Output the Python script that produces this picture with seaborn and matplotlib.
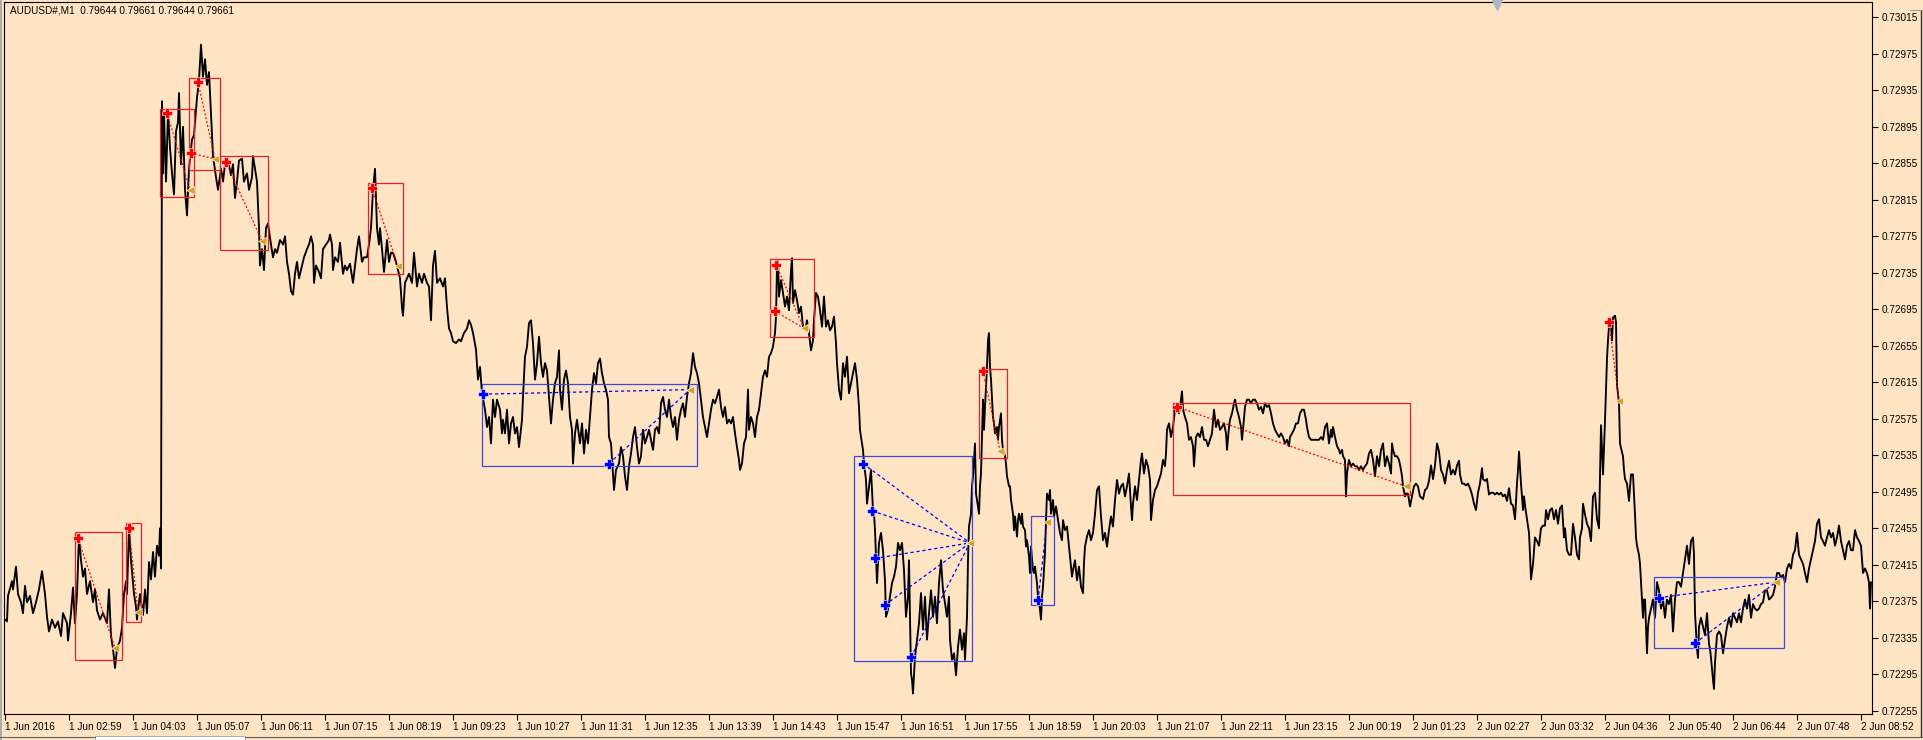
import matplotlib
matplotlib.use("Agg")
import matplotlib.pyplot as plt
import matplotlib.transforms as mtransforms
from matplotlib.patches import Rectangle
from matplotlib.lines import Line2D
import seaborn as sns
import pandas as pd

sns.set_theme(style="white")
plt.rcParams['font.family'] = ['Liberation Sans', 'DejaVu Sans']

BG = '#FFE4C4'

# ---------------- price series (bar index, close) ----------------
bars_a = [5,7,8,12,13,16,18,21,23,25,27,30,33,36,39,42,45,47,49,52,55,58,61,63,67,68,71,73,75,77,
          79,81,83,85,87,90,93,95,97,100,103,107,109,111,113,115,117,120,122,124,126,127,129,131,134,136,137,140,143,145,
          147,149,151,153,155,157,159,160,161,162]
close_a = [0.72355,0.72353,0.72381,0.72397,0.72388,0.72413,0.72383,0.72374,0.72362,0.72392,0.72374,0.72381,0.72362,0.72374,0.72388,
           0.72408,0.72383,0.72358,0.72342,0.72355,0.72346,0.72353,0.72337,0.72362,0.72351,0.72332,0.72362,0.72390,0.72351,0.72383,
           0.72446,0.72420,0.72402,0.72411,0.72383,0.72397,0.72374,0.72388,0.72365,0.72355,0.72362,0.72351,0.72388,0.72337,0.72323,
           0.72302,0.72323,0.72332,0.72346,0.72383,0.72397,0.72383,0.72455,0.72420,0.72383,0.72369,0.72355,0.72383,0.72360,0.72388,
           0.72362,0.72418,0.72399,0.72429,0.72402,0.72436,0.72425,0.72455,0.72411,0.72923]

bars_b = [163,164,166,168,170,172,174,176,178,179,181,183,185,187,189,192,194,197,199,201,
          203,205,207,209,211,213,216,218,221,223,225,228,231,233,235,237,239,242,244,247,
          249,252,253,255,257,259,260,262,264,266,268,271,273,275,277,280,283,285,287,289,
          291,293,295,297,299,302,304,307,309,311,313,314,316,319,321,323,326,329,330,332,
          333,335,338,340,343,345,347,350,353,355,357,359,362,364,367,369,371,373,375,376,
          377,379,380,382,384,387,389,391,393,396,398,400,402,403,405,407,409,412,414,417,
          419,422,424,427,429,431,433,435,437,440,443,445,447,449,451,453,456,459,461,464,
          467,469,471,473,476,478,480]
close_b = [0.72844,0.72909,0.72835,0.72911,0.72872,0.72844,0.72821,0.72890,0.72900,0.72932,
           0.72854,0.72895,0.72826,0.72798,0.72849,0.72881,0.72886,0.72927,0.72946,0.72985,
           0.72950,0.72969,0.72941,0.72955,0.72909,0.72863,0.72840,0.72826,0.72849,0.72835,
           0.72854,0.72858,0.72842,0.72854,0.72817,0.72835,0.72858,0.72860,0.72835,0.72844,
           0.72826,0.72840,0.72863,0.72849,0.72835,0.72784,0.72743,0.72761,0.72738,0.72784,
           0.72789,0.72766,0.72752,0.72761,0.72757,0.72771,0.72766,0.72775,0.72747,0.72734,
           0.72715,0.72711,0.72734,0.72747,0.72729,0.72743,0.72752,0.72761,0.72766,0.72775,
           0.72766,0.72724,0.72743,0.72736,0.72729,0.72761,0.72766,0.72771,0.72777,0.72766,
           0.72738,0.72752,0.72747,0.72768,0.72734,0.72743,0.72738,0.72745,0.72724,0.72743,
           0.72761,0.72775,0.72747,0.72752,0.72752,0.72766,0.72784,0.72826,0.72849,0.72817,
           0.72784,0.72766,0.72784,0.72761,0.72736,0.72771,0.72747,0.72757,0.72757,0.72747,
           0.72738,0.72729,0.72697,0.72688,0.72724,0.72729,0.72734,0.72724,0.72757,0.72720,
           0.72734,0.72724,0.72734,0.72724,0.72720,0.72683,0.72743,0.72759,0.72724,0.72729,
           0.72720,0.72729,0.72697,0.72674,0.72669,0.72660,0.72658,0.72662,0.72660,0.72669,
           0.72674,0.72683,0.72678,0.72669,0.72651,0.72618,0.72632]

bars_c = [482,485,487,489,491,493,495,497,500,502,503,505,507,509,511,513,515,517,519,522,
          523,525,527,529,531,533,535,537,539,541,543,545,547,549,551,553,555,557,559,560,
          562,564,566,568,570,572,573,575,577,580,582,584,586,588,590,592,594,596,598,600,
          602,604,606,608,609,611,613,614,616,619,621,623,625,627,629,631,633,635,637,639,
          641,643,645,647,649,651,653,655,657,659,661,663,665,667,669,671,673,675,677,679,
          681,683,685,687,689,691,693,695,697,699,701,703,705,707,709,711,713,715,717,719,
          721,723,725,727,729,731,733,735,737,739,740,742,744,746,748,749,751,753,755,757,
          759,761,763,765,767,769,771,773,775,776,777,778,779,781,783,785,787,789,791,792,
          793,795,797,799,801,803,805,807,809,811,813,814,816,818,820,822,824,826,828,830,
          832,834,836,837,839,841,843,845,847,849,851,853,855,857,859,860,861,863,864,866,
          867,869,871,873,874,875,877,879,881,883,885,886,888,890,892,894,896,898,900,902,
          904,906,908,909,911,912,913,915,917,919,921,923,925,927,929,931,933,935,937,939,
          941,943,945,947,949,950]
close_c = [0.72603,0.72585,0.72566,0.72577,0.72548,0.72596,0.72577,0.72596,0.72585,0.72559,
           0.72574,0.72559,0.72585,0.72548,0.72570,0.72577,0.72559,0.72566,0.72544,0.72574,
           0.72599,0.72643,0.72654,0.72680,0.72683,0.72658,0.72618,0.72636,0.72665,0.72636,
           0.72621,0.72636,0.72628,0.72599,0.72570,0.72596,0.72614,0.72621,0.72650,0.72607,
           0.72585,0.72618,0.72628,0.72614,0.72577,0.72563,0.72526,0.72559,0.72574,0.72548,
           0.72570,0.72537,0.72563,0.72548,0.72577,0.72607,0.72625,0.72614,0.72636,0.72641,
           0.72625,0.72614,0.72607,0.72596,0.72555,0.72548,0.72515,0.72497,0.72519,0.72526,
           0.72544,0.72534,0.72512,0.72497,0.72523,0.72537,0.72555,0.72566,0.72544,0.72526,
           0.72534,0.72563,0.72548,0.72555,0.72563,0.72552,0.72541,0.72563,0.72566,0.72559,
           0.72592,0.72599,0.72585,0.72577,0.72596,0.72577,0.72566,0.72577,0.72552,0.72574,
           0.72585,0.72592,0.72577,0.72599,0.72614,0.72625,0.72647,0.72632,0.72625,0.72614,
           0.72596,0.72577,0.72566,0.72555,0.72570,0.72585,0.72596,0.72592,0.72599,0.72607,
           0.72588,0.72577,0.72588,0.72570,0.72574,0.72570,0.72577,0.72559,0.72544,0.72530,
           0.72519,0.72526,0.72548,0.72555,0.72607,0.72563,0.72577,0.72570,0.72555,0.72577,
           0.72585,0.72603,0.72621,0.72628,0.72621,0.72643,0.72647,0.72654,0.72669,0.72687,
           0.72742,0.72749,0.72709,0.72727,0.72713,0.72698,0.72709,0.72694,0.72738,0.72751,
           0.72702,0.72716,0.72705,0.72691,0.72698,0.72676,0.72672,0.72683,0.72669,0.72650,
           0.72661,0.72683,0.72713,0.72709,0.72694,0.72676,0.72709,0.72676,0.72683,0.72672,
           0.72676,0.72687,0.72658,0.72636,0.72607,0.72596,0.72636,0.72621,0.72643,0.72603,
           0.72614,0.72625,0.72636,0.72618,0.72588,0.72563,0.72555,0.72541,0.72526,0.72508,
           0.72482,0.72501,0.72519,0.72475,0.72471,0.72453,0.72395,0.72439,0.72450,0.72431,
           0.72398,0.72358,0.72366,0.72380,0.72395,0.72402,0.72413,0.72439,0.72431,0.72439,
           0.72409,0.72358,0.72380,0.72420,0.72296,0.72289,0.72274,0.72314,0.72333,0.72351,
           0.72384,0.72344,0.72380,0.72333,0.72362,0.72387,0.72358,0.72380,0.72351,0.72395,
           0.72420,0.72387,0.72373,0.72358,0.72380,0.72333]

bars_d = [952,954,956,958,960,962,964,965,967,968,969,971,972,973,975,976,977,979,980,981,
          983,984,985,987,988,989,990,991,993,994,995,997,998,999,1001,1002,1003,1005,1006,1007,
          1009,1010,1011,1013,1014,1015,1017,1018,1019,1021,1022,1023,1025,1026,1027,1029,1030,1031,1033,1034,
          1035,1037,1038,1039,1041,1042,1043,1045,1046,1047,1049,1050,1051,1053,1054,1056,1058,1060,1062,1063,
          1065,1067,1069,1071,1072,1073,1075,1077,1079,1081,1083,1084,1085,1087,1089,1091,1093,1095,1097,1099,
          1101,1103,1105,1107,1109,1111,1113,1115,1117,1119,1121,1123,1125,1127,1129,1131,1132,1133,1135,1137,
          1139,1141,1142,1144,1146,1148,1150,1151,1153,1155,1157,1159,1161,1163,1165,1166,1167,1169,1171,1173,
          1175,1177,1179,1181,1182,1183,1185,1187,1189,1191,1193,1194,1196,1198,1200,1202,1204,1206,1208,1210,
          1212,1214,1216,1218,1220,1222,1224,1226,1227,1229,1230,1232,1234,1235,1237,1239,1241,1242,1243,1245,
          1247,1249,1251,1253,1255,1257,1259,1261,1263,1265,1267,1269,1271,1273,1275,1277,1279,1281,1283,1285,
          1287,1289,1290,1292,1294,1296,1298,1300,1302,1304,1306,1307,1309,1311,1313,1315,1317,1319,1321,1323,
          1325,1327,1328,1329,1331,1332,1333,1335,1337,1339,1340,1342,1343,1345,1346,1347,1348,1349,1351,1353,
          1355,1357,1359,1361,1363,1365,1367,1369,1371,1373,1375,1377,1379,1381,1383,1385,1387,1389,1391,1392,
          1393,1395,1397,1399,1401,1402,1403,1405,1406,1408,1410,1412,1414,1416,1418]
close_d = [0.72311,0.72318,0.72294,0.72325,0.72344,0.72322,0.72340,0.72311,0.72358,0.72420,
           0.72457,0.72471,0.72501,0.72512,0.72548,0.72493,0.72486,0.72471,0.72501,0.72515,
           0.72596,0.72563,0.72588,0.72632,0.72661,0.72669,0.72632,0.72618,0.72577,0.72570,
           0.72559,0.72566,0.72552,0.72566,0.72581,0.72552,0.72541,0.72534,0.72526,0.72512,
           0.72501,0.72501,0.72486,0.72471,0.72453,0.72468,0.72446,0.72464,0.72471,0.72460,
           0.72471,0.72457,0.72453,0.72435,0.72442,0.72424,0.72406,0.72435,0.72409,0.72406,
           0.72413,0.72395,0.72380,0.72376,0.72355,0.72380,0.72391,0.72428,0.72464,0.72493,
           0.72486,0.72497,0.72471,0.72486,0.72468,0.72479,0.72464,0.72450,0.72442,0.72464,
           0.72453,0.72457,0.72435,0.72413,0.72402,0.72409,0.72420,0.72398,0.72413,0.72391,
           0.72384,0.72417,0.72435,0.72446,0.72453,0.72442,0.72450,0.72471,0.72497,0.72501,
           0.72468,0.72442,0.72450,0.72435,0.72453,0.72468,0.72457,0.72486,0.72508,0.72493,
           0.72501,0.72504,0.72490,0.72501,0.72515,0.72479,0.72464,0.72482,0.72501,0.72486,
           0.72508,0.72530,0.72537,0.72515,0.72530,0.72523,0.72508,0.72464,0.72486,0.72497,
           0.72501,0.72508,0.72515,0.72530,0.72523,0.72537,0.72563,0.72570,0.72555,0.72566,
           0.72585,0.72588,0.72581,0.72596,0.72605,0.72585,0.72577,0.72570,0.72552,0.72555,
           0.72545,0.72523,0.72555,0.72559,0.72555,0.72566,0.72552,0.72552,0.72545,0.72552,
           0.72559,0.72585,0.72566,0.72574,0.72563,0.72566,0.72570,0.72559,0.72541,0.72566,
           0.72574,0.72581,0.72592,0.72596,0.72585,0.72577,0.72566,0.72552,0.72563,0.72588,
           0.72596,0.72596,0.72592,0.72596,0.72596,0.72592,0.72585,0.72588,0.72581,0.72592,
           0.72588,0.72590,0.72581,0.72570,0.72563,0.72559,0.72555,0.72559,0.72555,0.72548,
           0.72552,0.72545,0.72555,0.72559,0.72563,0.72570,0.72570,0.72581,0.72585,0.72585,
           0.72574,0.72566,0.72555,0.72552,0.72552,0.72552,0.72552,0.72552,0.72555,0.72552,
           0.72566,0.72570,0.72559,0.72548,0.72563,0.72555,0.72566,0.72555,0.72545,0.72541,
           0.72537,0.72541,0.72534,0.72530,0.72490,0.72515,0.72523,0.72530,0.72523,0.72526,
           0.72523,0.72523,0.72519,0.72523,0.72519,0.72523,0.72526,0.72537,0.72541,0.72530,
           0.72512,0.72534,0.72523,0.72541,0.72548,0.72523,0.72534,0.72526,0.72515,0.72548,
           0.72541,0.72534,0.72534,0.72530,0.72519,0.72512,0.72501,0.72490,0.72493,0.72493,
           0.72479,0.72490,0.72501,0.72504,0.72501]

bars_e = [1420,1423,1425,1427,1429,1431,1433,1435,1437,1439,1441,1443,1445,1447,1449,1451,1453,1455,1457,1459,
          1460,1462,1464,1466,1468,1470,1472,1474,1476,1478,1480,1482,1483,1485,1487,1489,1491,1493,1495,1497,
          1499,1501,1503,1505,1507,1509,1511,1513,1515,1517,1518,1519,1521,1523,1524,1525,1527,1529,1530,1531,
          1533,1535,1537,1539,1541,1543,1545,1546,1548,1550,1552,1554,1556,1558,1560,1562,1564,1565,1567,1569,
          1571,1573,1575,1577,1579,1580,1582,1583,1585,1587,1589,1591,1593,1595,1597,1599,1600,1601,1603,1604,
          1605,1607,1608,1609,1611,1612,1613,1615,1616,1617,1619,1620,1621,1623,1624,1625,1627,1629,1631,1633,
          1635,1636,1637,1639,1640,1641,1643,1644,1645,1647,1648,1649,1651,1653,1655,1657,1659,1661,1663,1665,
          1667,1669,1671,1673,1675,1677,1679,1681,1683,1685,1687,1689,1691,1693,1694,1695,1697,1698,1699,1701,
          1703,1705,1707,1709,1710,1711,1713,1714,1715,1717,1719,1721,1723,1725,1727,1729,1731,1733,1735,1737,
          1739,1741,1743,1745,1747,1749,1751,1753,1755,1757,1759,1761,1763,1765,1767,1769,1771,1773,1775,1777,
          1779,1781,1783,1785,1787,1789,1791,1793,1795,1797,1799,1801,1803,1805,1807,1809,1811,1813,1815,1817,
          1819,1821,1823,1825,1827,1829,1831,1833,1835,1837,1839,1841,1843,1845,1847,1849,1851,1853,1855,1857,
          1859,1861,1862,1863,1865,1867,1869,1870,1871]
close_e = [0.72490,0.72487,0.72497,0.72499,0.72507,0.72524,0.72509,0.72524,0.72548,0.72539,
           0.72519,0.72514,0.72504,0.72519,0.72529,0.72514,0.72519,0.72514,0.72524,0.72529,
           0.72514,0.72504,0.72504,0.72502,0.72504,0.72499,0.72492,0.72482,0.72475,0.72494,
           0.72504,0.72521,0.72509,0.72507,0.72509,0.72492,0.72494,0.72494,0.72492,0.72494,
           0.72492,0.72494,0.72490,0.72492,0.72485,0.72499,0.72482,0.72480,0.72465,0.72504,
           0.72519,0.72539,0.72504,0.72475,0.72490,0.72480,0.72465,0.72450,0.72426,0.72399,
           0.72416,0.72445,0.72441,0.72436,0.72455,0.72458,0.72458,0.72475,0.72465,0.72475,
           0.72477,0.72465,0.72475,0.72460,0.72477,0.72480,0.72445,0.72455,0.72431,0.72426,
           0.72426,0.72460,0.72445,0.72426,0.72421,0.72445,0.72455,0.72482,0.72470,0.72460,
           0.72455,0.72441,0.72490,0.72494,0.72465,0.72455,0.72509,0.72568,0.72514,0.72543,
           0.72573,0.72641,0.72661,0.72676,0.72681,0.72661,0.72686,0.72688,0.72681,0.72612,
           0.72592,0.72548,0.72543,0.72534,0.72519,0.72509,0.72504,0.72485,0.72514,0.72514,
           0.72470,0.72445,0.72436,0.72426,0.72416,0.72396,0.72357,0.72377,0.72377,0.72318,
           0.72347,0.72357,0.72367,0.72377,0.72357,0.72396,0.72387,0.72367,0.72377,0.72357,
           0.72377,0.72372,0.72382,0.72342,0.72377,0.72396,0.72396,0.72391,0.72406,0.72421,
           0.72436,0.72416,0.72441,0.72445,0.72426,0.72362,0.72323,0.72313,0.72347,0.72357,
           0.72347,0.72338,0.72362,0.72328,0.72323,0.72313,0.72289,0.72279,0.72308,0.72338,
           0.72342,0.72338,0.72318,0.72333,0.72347,0.72357,0.72347,0.72362,0.72357,0.72352,
           0.72362,0.72352,0.72367,0.72377,0.72367,0.72382,0.72357,0.72372,0.72367,0.72365,
           0.72367,0.72372,0.72374,0.72387,0.72387,0.72377,0.72379,0.72382,0.72391,0.72406,
           0.72406,0.72401,0.72404,0.72396,0.72411,0.72416,0.72411,0.72426,0.72431,0.72450,
           0.72426,0.72421,0.72416,0.72406,0.72396,0.72411,0.72421,0.72431,0.72441,0.72460,
           0.72465,0.72445,0.72441,0.72436,0.72445,0.72453,0.72445,0.72450,0.72436,0.72445,
           0.72458,0.72441,0.72431,0.72421,0.72436,0.72441,0.72431,0.72431,0.72453,0.72445,
           0.72441,0.72436,0.72421,0.72406,0.72411,0.72406,0.72396,0.72367,0.72396]

# ---------------- trade boxes ----------------
box_x0 = [75, 126, 160, 189, 220, 368, 482, 770, 854, 979, 1031, 1173, 1654]
box_x1 = [122, 141, 194, 220, 268, 403, 697, 814, 972, 1007, 1054, 1410, 1784]
box_lo = [0.72311, 0.72352, 0.72818, 0.72848, 0.72760, 0.72734, 0.72523, 0.72665, 0.72310, 0.72532, 0.72371, 0.72491, 0.72324]
box_hi = [0.72451, 0.72461, 0.72914, 0.72948, 0.72863, 0.72833, 0.72613, 0.72750, 0.72534, 0.72630, 0.72468, 0.72592, 0.72402]
box_side = ['sell', 'sell', 'sell', 'sell', 'sell', 'sell', 'buy', 'sell', 'buy', 'sell', 'buy', 'sell', 'buy']

# ---------------- trades: entry -> exit ----------------
entry_bar = [78, 129, 167, 198, 191, 226, 372, 483, 609, 776, 775, 863, 872, 875, 885, 911, 983, 1038, 1177, 1609, 1659, 1695]
entry_px = [0.72444, 0.72455, 0.72910, 0.72944, 0.72866, 0.72856, 0.72828, 0.72602, 0.72526, 0.72744, 0.72693,
            0.72526, 0.72474, 0.72422, 0.72371, 0.72314, 0.72627, 0.72376, 0.72588, 0.72681, 0.72379, 0.72329]
exit_bar = [115, 138, 190, 215, 215, 262, 398, 690, 690, 804, 804, 970, 970, 970, 970, 970, 1000, 1047, 1406, 1619, 1776, 1776]
exit_px = [0.72324, 0.72363, 0.72826, 0.72860, 0.72860, 0.72770, 0.72742, 0.72607, 0.72607, 0.72674, 0.72674,
           0.72439, 0.72439, 0.72439, 0.72439, 0.72439, 0.72540, 0.72462, 0.72501, 0.72595, 0.72396, 0.72396]
trade_side = ['sell'] * 7 + ['buy'] * 2 + ['sell'] * 2 + ['buy'] * 5 + ['sell', 'buy', 'sell', 'sell', 'buy', 'buy']

# ---------------- axes text ----------------
y_ticks = [0.72255, 0.72295, 0.72335, 0.72375, 0.72415, 0.72455, 0.72495, 0.72535, 0.72575, 0.72615,
           0.72655, 0.72695, 0.72735, 0.72775, 0.72815, 0.72855, 0.72895, 0.72935, 0.72975, 0.73015]
x_labels = ['1 Jun 2016', '1 Jun 02:59', '1 Jun 04:03', '1 Jun 05:07', '1 Jun 06:11', '1 Jun 07:15',
            '1 Jun 08:19', '1 Jun 09:23', '1 Jun 10:27', '1 Jun 11:31', '1 Jun 12:35', '1 Jun 13:39',
            '1 Jun 14:43', '1 Jun 15:47', '1 Jun 16:51', '1 Jun 17:55', '1 Jun 18:59', '1 Jun 20:03',
            '1 Jun 21:07', '1 Jun 22:11', '1 Jun 23:15', '2 Jun 00:19', '2 Jun 01:23', '2 Jun 02:27',
            '2 Jun 03:32', '2 Jun 04:36', '2 Jun 05:40', '2 Jun 06:44', '2 Jun 07:48', '2 Jun 08:52']
title_text = "AUDUSD#,M1  0.79644 0.79661 0.79644 0.79661"

# ---------------- figure ----------------
W, H = 1924, 740
fig = plt.figure(figsize=(W / 100, H / 100), dpi=100, facecolor=BG)
ax = fig.add_axes([4 / W, 26 / H, 1868 / W, 712 / H])
ax.set_facecolor(BG)

df = pd.DataFrame({'bar': bars_a + bars_b + bars_c + bars_d + bars_e,
                   'close': close_a + close_b + close_c + close_d + close_e})
sns.lineplot(data=df, x='bar', y='close', sort=False, estimator=None,
             color='black', linewidth=1.35, ax=ax, legend=False)

box_col = {'sell': '#E5202A', 'buy': '#3C48DC'}
line_col = {'sell': '#FF0000', 'buy': '#0000FF'}
line_dash = {'sell': (0, (1.6, 1.6)), 'buy': (0, (2.6, 2.2))}

for x0, x1, lo, hi, s in zip(box_x0, box_x1, box_lo, box_hi, box_side):
    ax.add_patch(Rectangle((x0, lo), x1 - x0, hi - lo, fill=False,
                           edgecolor=box_col[s], linewidth=0.9, zorder=3))

for eb, ep, xb, xp, s in zip(entry_bar, entry_px, exit_bar, exit_px, trade_side):
    ax.plot([eb, xb], [ep, xp], color=line_col[s], linewidth=0.9,
            linestyle=line_dash[s], zorder=4)

for eb, ep, s in zip(entry_bar, entry_px, trade_side):
    ax.plot([eb], [ep], marker='P', markersize=7, color=line_col[s],
            markeredgecolor='white', markeredgewidth=0.4, zorder=5)
for xb, xp in zip(exit_bar, exit_px):
    ax.plot([xb], [xp], marker='<', markersize=6, color='#D9A11E',
            markeredgecolor='white', markeredgewidth=0.4, zorder=5)

ax.set_xlim(4, 1872)
ax.set_ylim(0.722515, 0.730318)
ax.set_xlabel('')
ax.set_ylabel('')

ax.yaxis.tick_right()
ax.set_yticks(y_ticks)
ax.set_yticklabels([f"{v:.5f}" for v in y_ticks])
ax.tick_params(axis='y', which='both', right=True, left=False, direction='out',
               length=4, width=0.8, pad=3, labelsize=7.2, colors='black')

first_tick = 5.5
ax.set_xticks([first_tick + 64 * i for i in range(len(x_labels))])
ax.set_xticklabels(x_labels, ha='left')
ax.tick_params(axis='x', which='both', bottom=True, direction='out',
               length=4, width=0.8, pad=2, labelsize=7.2, colors='black')
ax.grid(False)
for sp in ax.spines.values():
    sp.set_color('black')
    sp.set_linewidth(0.8)
    sp.set_visible(True)

# chart-shift marker at the top
trans = mtransforms.blended_transform_factory(ax.transData, ax.transAxes)
ax.plot([1497], [0.996], marker='v', markersize=7, color='#AEB6C4',
        transform=trans, clip_on=False, zorder=6)

fig.text(10 / W, 1 - 10.5 / H, title_text, fontsize=7.2, ha='left', va='center', color='black')

# window decorations
fig.add_artist(Line2D([0.6 / W, 0.6 / W], [0, 1], color='#A0A0A0', linewidth=1.2))
fig.add_artist(Line2D([1921.5 / W, 1921.5 / W], [3 / H, 1 - 10 / H], color='#303030', linewidth=1.0))
fig.add_artist(Line2D([1910 / W, 1924 / W], [1 - 10 / H, 1 - 10 / H], color='#A0A0A0', linewidth=0.8))
fig.add_artist(Line2D([0, 95 / W], [3 / H, 3 / H], color='#606060', linewidth=0.8))
fig.add_artist(Line2D([245 / W, 1], [3 / H, 3 / H], color='#606060', linewidth=0.8))
fig.add_artist(Rectangle((95 / W, 0), 150 / W, 4 / H, transform=fig.transFigure,
                         facecolor='white', edgecolor='#A0A0A0', linewidth=0.6))

fig.savefig('out.png', dpi=100, facecolor=BG)
